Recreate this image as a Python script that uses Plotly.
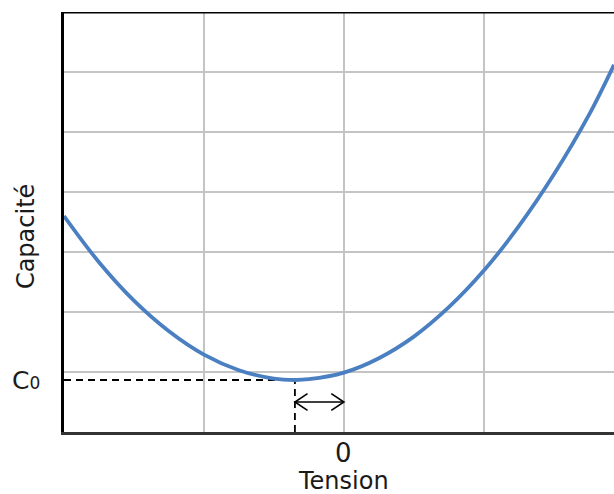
import plotly.graph_objects as go

# Data (x: voltage in grid units, y: capacitance in grid units)
tension = [-2.0, -1.75, -1.5, -1.25, -1.0, -0.75, -0.5, -0.35, -0.25, 0.0, 0.25, 0.5, 0.75, 1.0, 1.25, 1.5, 1.75, 1.93]
capacite = [3.60, 2.83, 2.19, 1.68, 1.29, 1.03, 0.89, 0.867, 0.88, 0.99, 1.23, 1.59, 2.08, 2.69, 3.43, 4.29, 5.28, 6.12]

c0_x = -0.35
c0_y = 0.867
arrow_y = 0.5
x_range = [-2.0, 1.93]
y_range = [0, 7]
x_grid = [-1, 0, 1]
y_grid = [1, 2, 3, 4, 5, 6]
zero_label = "0"
x_title = "Tension"
y_title = "Capacité"

FONT = "DejaVu Sans, sans-serif"
TXT = "#1a1a1a"

fig = go.Figure()

# dashed guides
fig.add_trace(go.Scatter(x=[x_range[0], c0_x, c0_x], y=[c0_y, c0_y, 0], mode="lines",
                         line=dict(color="black", width=1.8, dash="7px,5px"), hoverinfo="skip"))

# main curve
fig.add_trace(go.Scatter(x=tension, y=capacite, mode="lines",
                         line=dict(color="#4a7fc1", width=3.8, shape="spline"), hoverinfo="skip"))

# double arrow between c0_x and 0
hx, hy = 0.09, 0.14
fig.add_trace(go.Scatter(x=[c0_x, 0], y=[arrow_y, arrow_y], mode="lines",
                         line=dict(color="black", width=1.6), hoverinfo="skip"))
fig.add_trace(go.Scatter(x=[c0_x + hx, c0_x, c0_x + hx], y=[arrow_y + hy, arrow_y, arrow_y - hy], mode="lines",
                         line=dict(color="black", width=1.6), hoverinfo="skip"))
fig.add_trace(go.Scatter(x=[0 - hx, 0, 0 - hx], y=[arrow_y + hy, arrow_y, arrow_y - hy], mode="lines",
                         line=dict(color="black", width=1.6), hoverinfo="skip"))

# top border
fig.add_shape(type="line", xref="x", yref="y", x0=x_range[0], x1=x_range[1], y0=y_range[1], y1=y_range[1],
              line=dict(color="black", width=3))

# C0 label
fig.add_annotation(x=x_range[0], y=c0_y, xref="x", yref="y",
                   text="C<span style='font-size:17px'>0</span>", showarrow=False,
                   xanchor="right", yanchor="middle", xshift=-22, yshift=-1,
                   font=dict(family=FONT, size=25, color=TXT))
# "0" tick label
fig.add_annotation(x=0, y=0, xref="x", yref="paper", text=zero_label, showarrow=False,
                   xanchor="center", yanchor="middle", yshift=-21,
                   font=dict(family=FONT, size=26, color=TXT))
# x title
fig.add_annotation(x=0, y=0, xref="x", yref="paper", text=x_title, showarrow=False,
                   xanchor="center", yanchor="middle", yshift=-49,
                   font=dict(family=FONT, size=24, color=TXT))
# y title
fig.add_annotation(x=0, y=0.464, xref="paper", yref="paper", text=y_title, showarrow=False,
                   textangle=-90, xanchor="center", yanchor="middle", xshift=-38,
                   font=dict(family=FONT, size=24, color=TXT))

fig.update_layout(
    width=614, height=494,
    margin=dict(l=64, r=0, t=12, b=62),
    paper_bgcolor="white", plot_bgcolor="white",
    showlegend=False,
    xaxis=dict(range=x_range, tickvals=x_grid, showticklabels=False, showgrid=True,
               gridcolor="#c4c4c4", gridwidth=1.5, zeroline=False,
               showline=True, linecolor="#333", linewidth=3, ticks=""),
    yaxis=dict(range=y_range, tickvals=y_grid, showticklabels=False, showgrid=True,
               gridcolor="#c4c4c4", gridwidth=1.5, zeroline=False,
               showline=True, linecolor="black", linewidth=3, ticks=""),
)

fig.write_html("out.html", config={"displayModeBar": False},
               post_script="document.body.style.margin='0';document.body.style.overflow='hidden';")
